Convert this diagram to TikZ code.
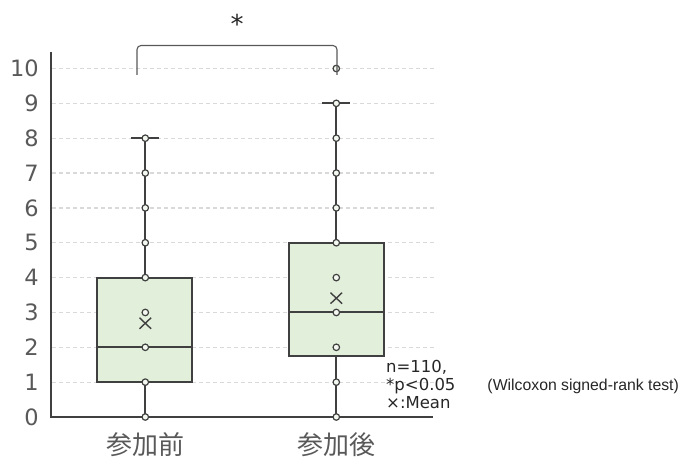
\documentclass[tikz,border=0pt]{standalone}
\usepackage{fontspec}
\setmainfont{DejaVu Sans}
\newfontfamily\jpfont{Noto Sans CJK JP}
\newfontfamily\narrowfont{Liberation Sans}
\usetikzlibrary{positioning}
\definecolor{boxfill}{RGB}{226,239,218}
\definecolor{linecol}{RGB}{64,64,64}
\definecolor{labelcol}{RGB}{89,89,89}
\definecolor{gridcol}{RGB}{217,217,217}

\begin{document}
\begin{tikzpicture}[x=1pt, y=1pt,
		gridline/.style = {draw=gridcol, line width=1.2pt, dash pattern=on 4pt off 3pt},
		axis/.style = {draw=linecol, line width=1.6pt},
		boxbody/.style = {draw=linecol, fill=boxfill, line width=1.8pt},
		whisker/.style = {draw=linecol, line width=1.8pt},
		dot/.style = {circle, draw=linecol, fill=boxfill!40, line width=1.2pt, inner sep=0pt, minimum size=6.5pt},
		tick/.style = {anchor=east, text=labelcol, inner sep=0pt, font=\fontsize{22.5}{26}\selectfont},
		group/.style = {anchor=base, text=labelcol, inner sep=0pt, font=\jpfont\fontsize{26}{30}\selectfont},
		note/.style = {anchor=base west, text=black!85, inner sep=0pt, font=\fontsize{16.5}{18}\selectfont}
		]
		\useasboundingbox (0,0) rectangle (680,456);
		
		\foreach \v in {1,...,10}
			\draw[gridline] (52,{39+34.85*\v}) -- (434,{39+34.85*\v});
		\foreach \v in {0,...,10}
			\node (T\v) [tick] at (39,{39+34.85*\v}) {\v};
		
		\draw[axis] (51,404) -- (51,39) -- (433,39);
		
		\draw[whisker] (145.3,39) -- (145.3,{39+34.85*8});
		\draw[whisker] (131,39) -- (159,39);
		\draw[whisker] (131,{39+34.85*8}) -- (159,{39+34.85*8});
		\draw[boxbody] (97.3,{39+34.85*1}) rectangle (192,{39+34.85*4});
		\draw[whisker] (97.3,{39+34.85*2}) -- (192,{39+34.85*2});
		\foreach \v in {0,...,8}
			\node (A\v) [dot] at (145.3,{39+34.85*\v}) {};
		\draw[whisker, line width=1.4pt] (139.5,{39+34.85*2.69-5.5}) -- (151.1,{39+34.85*2.69+5.5});
		\draw[whisker, line width=1.4pt] (139.5,{39+34.85*2.69+5.5}) -- (151.1,{39+34.85*2.69-5.5});
		
		\draw[whisker] (336.3,39) -- (336.3,{39+34.85*9});
		\draw[whisker] (322,39) -- (350,39);
		\draw[whisker] (322,{39+34.85*9}) -- (350,{39+34.85*9});
		\draw[boxbody] (289,{39+34.85*1.75}) rectangle (383.7,{39+34.85*5});
		\draw[whisker] (289,{39+34.85*3+0.3}) -- (383.7,{39+34.85*3+0.3});
		\foreach \v in {0,...,10}
			\node (B\v) [dot] at (336.3,{39+34.85*\v}) {};
		\draw[whisker, line width=1.4pt] (330.5,{39+34.85*3.41-5.5}) -- (342.1,{39+34.85*3.41+5.5});
		\draw[whisker, line width=1.4pt] (330.5,{39+34.85*3.41+5.5}) -- (342.1,{39+34.85*3.41-5.5});
		
		\node (Pre) [group] at (145.3,2) {参加前};
		\node (Post) [group] at (336.3,2) {参加後};
		
		\coordinate (L) at (137,381);
		\coordinate (R) at (337,381);
		\draw[draw=labelcol, line width=1.1pt, rounded corners=4pt] (L) -- (137,410.5) -- (337,410.5) -- (R);
		\node (Star) [text=black!85, font=\fontsize{26}{28}\selectfont] at (237,432) {*};
		
		\node (N1) [note] at (386,84) {n=110,};
		\node (N2) [note] at (386,66) {*p<0.05\hspace{32pt}{\narrowfont\fontsize{15.8}{18}\selectfont(Wilcoxon signed-rank test)}};
		\node (N3) [note] at (386,48) {×:Mean};
	\end{tikzpicture}
\end{document}
